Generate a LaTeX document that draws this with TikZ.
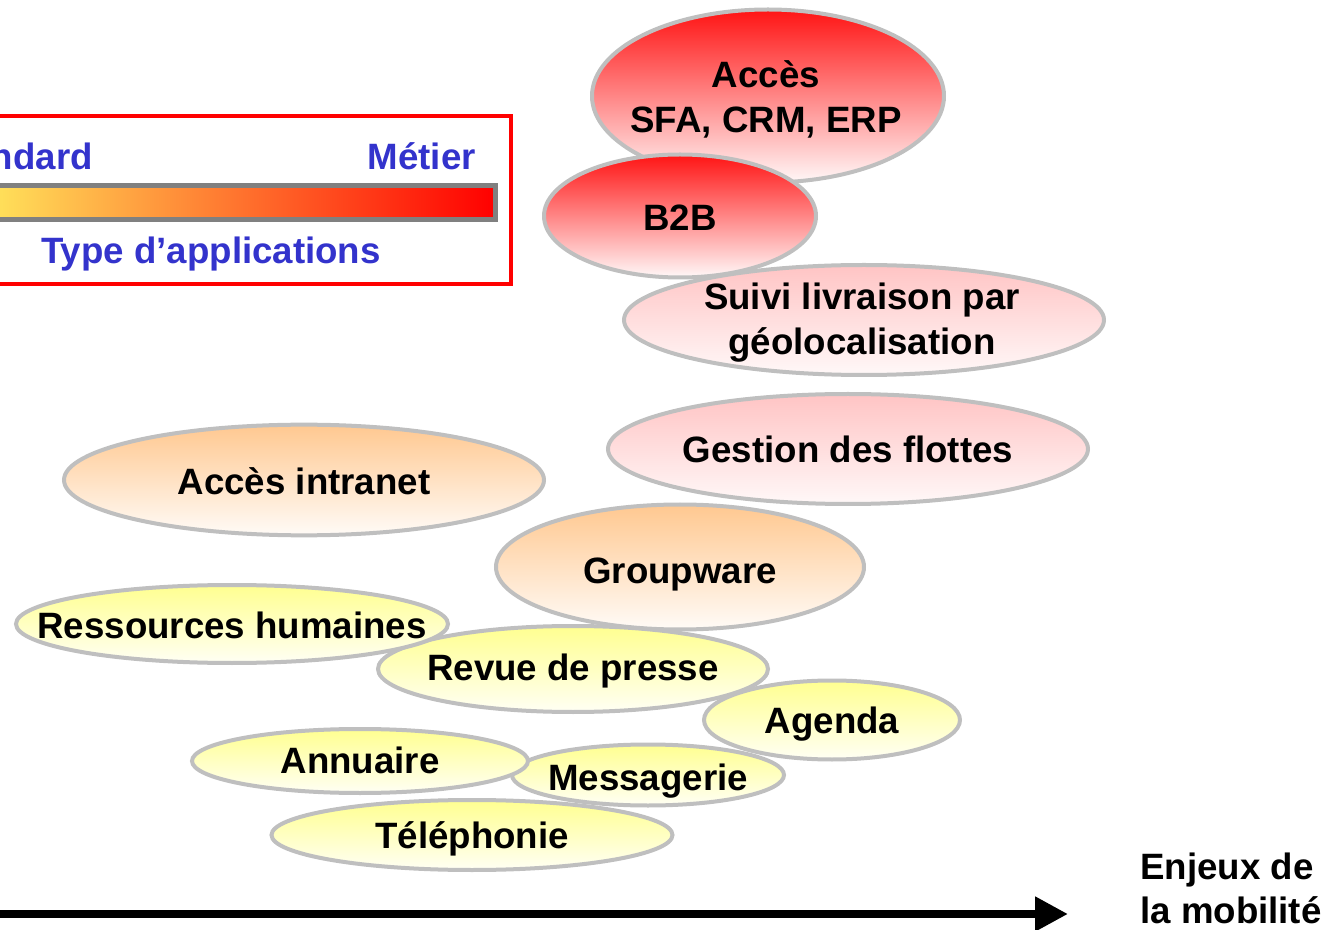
\documentclass[tikz,border=0pt]{standalone}
\usepackage{fontspec}
\setmainfont{Liberation Sans}
\usetikzlibrary{shapes.geometric,arrows.meta}
\definecolor{bordergray}{HTML}{BFBFBF}
\definecolor{legblue}{HTML}{3333CC}
\definecolor{redtop}{HTML}{FF1414}
\definecolor{redbot}{HTML}{FFF8F8}
\definecolor{pinktop}{HTML}{FFC4C4}
\definecolor{pinkbot}{HTML}{FFF8F8}
\definecolor{orgtop}{HTML}{FFC890}
\definecolor{orgbot}{HTML}{FFFBF7}
\definecolor{yeltop}{HTML}{FFFF90}
\definecolor{yelbot}{HTML}{FFFFF4}
\definecolor{bargray}{HTML}{808080}
\definecolor{baryel}{HTML}{FFFF66}
\definecolor{barorg}{HTML}{FFA040}
\definecolor{barred}{HTML}{FF0000}
\begin{document}
\begin{tikzpicture}[x=0.75pt,y=-0.75pt,
  blob/.style={ellipse, draw=bordergray, line width=3pt, inner sep=0pt},
  redfill/.style={top color=redtop, bottom color=redbot},
  pinkfill/.style={top color=pinktop, bottom color=pinkbot},
  orgfill/.style={top color=orgtop, bottom color=orgbot},
  yelfill/.style={top color=yeltop, bottom color=yelbot},
  lbl/.style={font=\bfseries\fontsize{27.5}{34}\selectfont, align=center, inner sep=0pt, anchor=base},
  leglbl/.style={font=\bfseries\fontsize{27.5}{34}\selectfont, text=legblue, inner sep=0pt},
]
\useasboundingbox (0,0) rectangle (1336,930);
\clip (0,0) rectangle (1336,930);

% legend
\node[draw=red, line width=3.5pt, minimum width=450.75pt, minimum height=126pt, inner sep=0pt] (legbox) at (210.5,200) {};
\node[draw=bargray, line width=3.75pt, minimum width=426pt, minimum height=25.9pt, inner sep=0pt,
      left color=baryel, middle color=barorg, right color=barred] (bar) at (211.5,202.5) {};
\node[leglbl, anchor=base east] (std) at (93,170) {Standard};
\node[leglbl, anchor=base east] (met) at (476,170) {Métier};
\node[leglbl, anchor=base] (typ) at (211,264) {Type d’applications};

% ellipses
\node[blob, redfill, minimum width=264pt, minimum height=129.75pt] (sfa) at (768,96) {};
\node[lbl] (sfat) at (766,133) {Accès\\SFA, CRM, ERP};
\node[blob, redfill, minimum width=204pt, minimum height=92.25pt] (b2b) at (680,216) {};
\node[lbl] (b2bt) at (680,231) {B2B};
\node[blob, pinkfill, minimum width=360pt, minimum height=82.5pt] (suivi) at (864,320) {};
\node[lbl] (suivit) at (862,355) {Suivi livraison par\\géolocalisation};
\node[blob, pinkfill, minimum width=360pt, minimum height=82.5pt] (gest) at (848,449) {};
\node[lbl] (gestt) at (848,463) {Gestion des flottes};
\node[blob, orgfill, minimum width=360pt, minimum height=83pt] (intra) at (304,480) {};
\node[lbl] (intrat) at (304,495) {Accès intranet};
\node[blob, orgfill, minimum width=276pt, minimum height=93.75pt] (grp) at (680,567) {};
\node[lbl] (grpt) at (680,583) {Groupware};
\node[blob, yelfill, minimum width=292.5pt, minimum height=64.5pt] (revue) at (573,669) {};
\node[lbl] (revuet) at (573,680) {Revue de presse};
\node[blob, yelfill, minimum width=324pt, minimum height=58.5pt] (rh) at (232,624) {};
\node[lbl] (rht) at (232,638) {Ressources humaines};
\node[blob, yelfill, minimum width=192pt, minimum height=59.25pt] (agenda) at (832,720) {};
\node[lbl] (agendat) at (832,733) {Agenda};
\node[blob, yelfill, minimum width=204pt, minimum height=45.75pt] (mess) at (648,775) {};
\node[lbl] (messt) at (648,790) {Messagerie};
\node[blob, yelfill, minimum width=252pt, minimum height=48pt] (annu) at (360,761) {};
\node[lbl] (annut) at (360,773) {Annuaire};
\node[blob, yelfill, minimum width=300.75pt, minimum height=52.5pt] (tel) at (472,835) {};
\node[lbl] (telt) at (472,848) {Téléphonie};

% axis
\coordinate (axs) at (-20,914);
\coordinate (axe) at (1068,914);
\draw[line width=6pt, -{Triangle[length=24.75pt,width=24.75pt]}] (axs) -- (axe);
\node[font=\bfseries\fontsize{27.5}{33}\selectfont, align=left, inner sep=0pt, anchor=base west] (enj) at (1140,923) {Enjeux de\\la mobilité};
\end{tikzpicture}
\end{document}
